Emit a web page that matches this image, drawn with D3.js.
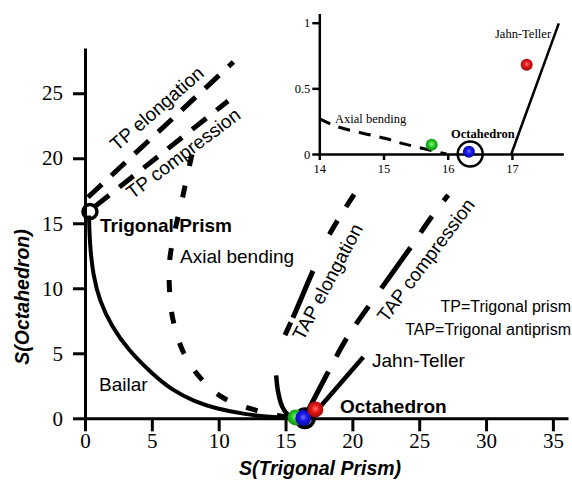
<!DOCTYPE html>
<html>
<head>
<meta charset="utf-8">
<script src="https://cdn.jsdelivr.net/npm/d3@7"></script>
<style>
  body { margin: 0; background: #fff; }
  svg { display: block; }
</style>
</head>
<body>
<div id="chart"></div>
<script>
// values
const xTicks = [0, 5, 10, 15, 20, 25, 30, 35];
const yTicks = [0, 5, 10, 15, 20, 25];
const insetXTicks = [14, 15, 16, 17];
const insetYTicks = [0, 0.5, 1];

const bailar = [[0.3, 15.6], [0.35, 13.5], [0.6, 11.0], [1.1, 9.0], [2.0, 7.05], [3.24, 5.25], [4.99, 3.46], [6.48, 2.18], [8.23, 1.28], [9.72, 0.77], [12, 0.3], [14, 0.07], [16.4, 0]];
const axialBending = [[8.0, 20.3], [7.3, 17.0], [6.7, 14.3], [6.32, 12.0], [6.36, 9.3], [6.6, 7.5], [7.35, 5.1], [8.6, 3.15], [10.3, 1.6], [12.7, 0.64], [14.5, 0.2], [16.0, 0]];
const tpElongation = [[0.22, 17.0], [11.1, 27.4]];
const tpCompression = [[0.75, 16.3], [10.7, 24.4]];
const tapElongation = [[14.96, 6.4], [15.58, 7.8], [17.08, 11.4], [18.32, 14.2], [20.19, 17.3]];
const tapElongationLow = [[14.3, 3.3], [14.45, 2.0], [14.75, 0.9], [15.2, 0.25], [15.7, 0.02], [16.2, 0]];
const tapCompression = [[16.58, 0.38], [18.2, 3.58], [19.57, 6.15], [21.19, 8.58], [24.31, 13.08], [25.93, 15.5], [27.17, 17.18]];
const jahnTeller = [[16.85, 0], [20.82, 4.72]];

const insetAxial = [[14.0, 0.27], [14.27, 0.21], [14.66, 0.16], [15.02, 0.12], [15.32, 0.077], [15.98, 0]];
const insetJahnTeller = [[16.99, 0], [17.73, 0.995]];

// reference shapes (open circles) and the three measured structures
const tpRef = [0.37, 15.9];
const ohRef = [16.45, 0];
const insetOhRef = [16.35, 0];
const pointX = [15.75, 16.33, 17.23];
const pointY = [0.07, 0.017, 0.68];
const pointColors = ['green', 'blue', 'red'];

const W = 572, H = 480;
const sans = 'Liberation Sans, Arial, sans-serif';
const serif = 'Liberation Serif, Times New Roman, serif';

const svg = d3.select('#chart').append('svg')
  .attr('width', W).attr('height', H)
  .style('background', '#fff');

// glossy ball gradients
const grads = {
  green: ['#8af78a', '#26c826', '#128a12'],
  blue: ['#7070ff', '#1616ea', '#0a0a9a'],
  red: ['#ff7070', '#e41616', '#9a0a0a'],
};
const defs = svg.append('defs');
Object.keys(grads).forEach(k => {
  const g = defs.append('radialGradient').attr('id', 'g-' + k)
    .attr('cx', '50%').attr('cy', '45%').attr('r', '55%');
  g.append('stop').attr('offset', '0%').attr('stop-color', grads[k][0]);
  g.append('stop').attr('offset', '45%').attr('stop-color', grads[k][1]);
  g.append('stop').attr('offset', '100%').attr('stop-color', grads[k][2]);
});

// ---------- main plot ----------
const x = d3.scaleLinear().domain([0, 36.13]).range([85, 568]);
const y = d3.scaleLinear().domain([0, 28.48]).range([418.3, 48]);

const lineFn = (sx, sy, curve = d3.curveCatmullRom.alpha(0.5)) => d3.line()
  .x(d => sx(d[0]))
  .y(d => sy(d[1]))
  .curve(curve);

const styleAxis = (g, size, font, width) => {
  g.select('.domain').attr('stroke', '#000').attr('stroke-width', width);
  g.selectAll('.tick line').attr('stroke', '#000').attr('stroke-width', width);
  g.selectAll('.tick text').attr('fill', '#000')
    .attr('font-family', font).attr('font-size', size);
};

svg.append('g')
  .attr('transform', `translate(0,${y(0)})`)
  .call(d3.axisBottom(x).tickValues(xTicks).tickSize(13).tickSizeOuter(0).tickPadding(2))
  .call(g => styleAxis(g, 21, serif, 3));

svg.append('g')
  .attr('transform', `translate(${x(0)},0)`)
  .call(d3.axisLeft(y).tickValues(yTicks).tickSize(12).tickSizeOuter(0).tickPadding(10))
  .call(g => styleAxis(g, 21, serif, 3));

svg.append('text')
  .attr('x', 320).attr('y', 475)
  .attr('text-anchor', 'middle')
  .attr('font-family', sans).attr('font-size', 19.5)
  .attr('font-weight', 'bold').attr('font-style', 'italic')
  .text('S(Trigonal Prism)');

svg.append('text')
  .attr('transform', 'translate(29,297) rotate(-90)')
  .attr('text-anchor', 'middle')
  .attr('font-family', sans).attr('font-size', 19.5)
  .attr('font-weight', 'bold').attr('font-style', 'italic')
  .text('S(Octahedron)');

// plain labels (drawn under the lines)
const labels = [
  { t: 'Trigonal Prism', x: 100, y: 231.5, bold: true },
  { t: 'Axial bending', x: 180, y: 263 },
  { t: 'Bailar', x: 99, y: 390.5 },
  { t: 'Jahn-Teller', x: 372, y: 366.5 },
  { t: 'Octahedron', x: 340, y: 412.5, bold: true },
  { t: 'TP=Trigonal prism', x: 571, y: 311.5, anchor: 'end', size: 16 },
  { t: 'TAP=Trigonal antiprism', x: 571, y: 335, anchor: 'end', size: 16 },
];
svg.append('g').selectAll('text').data(labels).enter().append('text')
  .attr('x', d => d.x).attr('y', d => d.y)
  .attr('text-anchor', d => d.anchor || 'start')
  .attr('font-family', sans)
  .attr('font-size', d => d.size || 19)
  .attr('font-weight', d => d.bold ? 'bold' : 'normal')
  .text(d => d.t);

const rotLabels = [
  { t: 'TP elongation', x: 156.7, y: 108.5, a: -41 },
  { t: 'TP compression', x: 183.3, y: 153.3, a: -37 },
  { t: 'TAP elongation', x: 327.5, y: 281.7, a: -62 },
  { t: 'TAP compression', x: 425.8, y: 260, a: -53 },
];
svg.append('g').selectAll('text').data(rotLabels).enter().append('text')
  .attr('transform', d => `translate(${d.x},${d.y}) rotate(${d.a})`)
  .attr('text-anchor', 'middle').attr('dy', '0.35em')
  .attr('font-family', sans).attr('font-size', 19)
  .text(d => d.t);

// paths
const ink = svg.append('g').attr('fill', 'none').attr('stroke', '#000');
const mainLine = lineFn(x, y);
const smoothLine = lineFn(x, y, d3.curveBasis);
const paths = [
  { d: bailar, w: 4, smooth: true },
  { d: axialBending, w: 5, dash: '12,20' },
  { d: tpElongation, w: 5, dash: '19,13' },
  { d: tpCompression, w: 5, dash: '18,13' },
  { d: tapElongation, w: 5, dash: '14,5,51,40,16,16,15,20' },
  { d: tapElongationLow, w: 4.5 },
  { d: tapCompression, w: 5, dash: '47,17,21,17,22,22,50,18,20,19,8,20' },
  { d: jahnTeller, w: 4.5 },
];
ink.selectAll('path').data(paths).enter().append('path')
  .attr('d', d => (d.smooth ? smoothLine : mainLine)(d.d))
  .attr('stroke-width', d => d.w)
  .attr('stroke-dasharray', d => d.dash || null);

// reference circles
ink.append('circle').attr('cx', x(tpRef[0])).attr('cy', y(tpRef[1])).attr('r', 7).attr('stroke-width', 3.5);
ink.append('circle').attr('cx', x(ohRef[0])).attr('cy', y(ohRef[1])).attr('r', 9).attr('stroke-width', 4);

// structures
svg.append('g').selectAll('circle').data(pointX).enter().append('circle')
  .attr('cx', d => x(d))
  .attr('cy', (d, i) => y(pointY[i]))
  .attr('r', 8)
  .attr('fill', (d, i) => `url(#g-${pointColors[i]})`);

// ---------- inset ----------
const ix = d3.scaleLinear().domain([14, 17.8]).range([319.3, 563.3]);
const iy = d3.scaleLinear().domain([0, 1.07]).range([154, 13.5]);

svg.append('g')
  .attr('transform', `translate(0,${iy(0)})`)
  .call(d3.axisBottom(ix).tickValues(insetXTicks).tickSize(6).tickSizeOuter(0).tickPadding(4).tickFormat(d3.format('d')))
  .call(g => styleAxis(g, 12.5, serif, 2.5));

svg.append('g')
  .attr('transform', `translate(${ix(14)},0)`)
  .call(d3.axisLeft(iy).tickValues(insetYTicks).tickSize(7).tickSizeOuter(0).tickPadding(2).tickFormat(d => d))
  .call(g => styleAxis(g, 12.5, serif, 2.5));

const insetLabels = [
  { t: 'Jahn-Teller', x: 495, y: 38.3 },
  { t: 'Axial bending', x: 335, y: 123.3 },
  { t: 'Octahedron', x: 451, y: 138.3, bold: true },
];
svg.append('g').selectAll('text').data(insetLabels).enter().append('text')
  .attr('x', d => d.x).attr('y', d => d.y)
  .attr('font-family', serif).attr('font-size', 12.5)
  .attr('font-weight', d => d.bold ? 'bold' : 'normal')
  .text(d => d.t);

const insetLine = lineFn(ix, iy);
const inkInset = svg.append('g').attr('fill', 'none').attr('stroke', '#000');
inkInset.append('path').attr('d', insetLine(insetAxial)).attr('stroke-width', 3).attr('stroke-dasharray', '12,9');
inkInset.append('path').attr('d', insetLine(insetJahnTeller)).attr('stroke-width', 2.5);
inkInset.append('circle').attr('cx', ix(insetOhRef[0])).attr('cy', iy(insetOhRef[1])).attr('r', 12.5).attr('stroke-width', 2.5);

svg.append('g').selectAll('circle').data(pointX).enter().append('circle')
  .attr('cx', d => ix(d))
  .attr('cy', (d, i) => iy(pointY[i]))
  .attr('r', 6)
  .attr('fill', (d, i) => `url(#g-${pointColors[i]})`);
</script>
</body>
</html>
